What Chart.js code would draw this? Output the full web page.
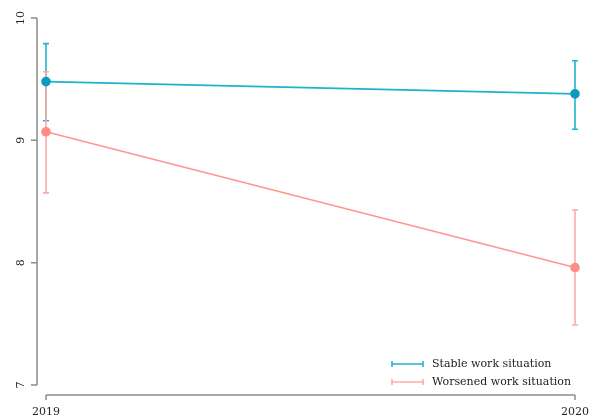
<!DOCTYPE html>
<html>
<head>
<meta charset="utf-8">
<script src="https://cdn.jsdelivr.net/npm/chart.js@4/dist/chart.umd.min.js"></script>
<style>
  html, body { margin: 0; padding: 0; background: #fff; }
  #wrap { width: 595px; height: 418px; }
</style>
</head>
<body>
<div id="wrap"><canvas id="myChart" width="595" height="418"></canvas></div>
<script>
const years = [2019, 2020];
const yTicks = [7, 8, 9, 10];

const seriesNames = ["Stable work situation", "Worsened work situation"];
const stableMean = [9.48, 9.38];
const stableLow = [9.16, 9.09];
const stableHigh = [9.79, 9.65];
const worseMean = [9.07, 7.96];
const worseLow = [8.57, 7.49];
const worseHigh = [9.56, 8.43];

const lineColors = ["#1fb2cf", "#ff958f"];
const pointColors = ["#0a9cc0", "#ff8c86"];
const barColors = ["#1fb4d2", "#ffaaa5"];

const lows = [stableLow, worseLow];
const highs = [stableHigh, worseHigh];

const serif = "'DejaVu Serif', 'Liberation Serif', serif";
const axisColor = "#8c8c8c";

// base-R style error bars, under the points
const errorBars = {
  id: "errorBars",
  beforeDatasetsDraw(chart) {
    const ctx = chart.ctx;
    const x = chart.scales.x;
    const y = chart.scales.y;
    [0, 1].forEach((s) => {
      ctx.save();
      ctx.strokeStyle = barColors[s];
      ctx.lineWidth = 1.6;
      years.forEach((yr, i) => {
        const px = x.getPixelForValue(yr);
        const top = y.getPixelForValue(highs[s][i]);
        const bot = y.getPixelForValue(lows[s][i]);
        ctx.beginPath();
        ctx.moveTo(px, top); ctx.lineTo(px, bot);
        ctx.moveTo(px - 3, top); ctx.lineTo(px + 3, top);
        ctx.moveTo(px - 3, bot); ctx.lineTo(px + 3, bot);
        ctx.stroke();
      });
      ctx.restore();
    });
  }
};

// detached axes and legend
const rAxes = {
  id: "rAxes",
  afterDatasetsDraw(chart) {
    const ctx = chart.ctx;
    const x = chart.scales.x;
    const y = chart.scales.y;
    const area = chart.chartArea;

    ctx.save();
    ctx.strokeStyle = axisColor;
    ctx.lineWidth = 1.5;
    ctx.fillStyle = "#222";
    ctx.font = "11px " + serif;

    const ax = area.left;
    ctx.beginPath();
    ctx.moveTo(ax, y.getPixelForValue(yTicks[0]));
    ctx.lineTo(ax, y.getPixelForValue(yTicks[yTicks.length - 1]));
    yTicks.forEach((t) => {
      const py = y.getPixelForValue(t);
      ctx.moveTo(ax, py); ctx.lineTo(ax - 6, py);
    });
    ctx.stroke();
    yTicks.forEach((t) => {
      const py = y.getPixelForValue(t);
      ctx.save();
      ctx.translate(ax - 16, py);
      ctx.rotate(-Math.PI / 2);
      ctx.textAlign = "center";
      ctx.textBaseline = "middle";
      ctx.fillText(String(t), 0, 0);
      ctx.restore();
    });

    const ay = area.bottom;
    ctx.beginPath();
    ctx.moveTo(x.getPixelForValue(years[0]), ay);
    ctx.lineTo(x.getPixelForValue(years[years.length - 1]), ay);
    years.forEach((yr) => {
      const px = x.getPixelForValue(yr);
      ctx.moveTo(px, ay); ctx.lineTo(px, ay + 5);
    });
    ctx.stroke();
    ctx.textAlign = "center";
    ctx.textBaseline = "middle";
    years.forEach((yr) => {
      ctx.fillText(String(yr), x.getPixelForValue(yr), ay + 17);
    });

    // legend
    ctx.textAlign = "left";
    seriesNames.forEach((name, s) => {
      const ly = 364 + s * 18;
      ctx.strokeStyle = barColors[s];
      ctx.lineWidth = 1.6;
      ctx.beginPath();
      ctx.moveTo(392, ly); ctx.lineTo(423, ly);
      ctx.moveTo(392, ly - 3); ctx.lineTo(392, ly + 3);
      ctx.moveTo(423, ly - 3); ctx.lineTo(423, ly + 3);
      ctx.stroke();
      ctx.fillStyle = "#222";
      ctx.fillText(name, 432, ly);
    });
    ctx.restore();
  }
};

const ctx = document.getElementById("myChart").getContext("2d");
new Chart(ctx, {
  type: "line",
  data: {
    datasets: [
      {
        label: seriesNames[0],
        data: years.map((yr, i) => ({ x: yr, y: stableMean[i] })),
        borderColor: lineColors[0],
        backgroundColor: pointColors[0],
        pointBackgroundColor: pointColors[0],
        pointBorderColor: pointColors[0],
        borderWidth: 1.6,
        pointRadius: 4,
        fill: false,
      },
      {
        label: seriesNames[1],
        data: years.map((yr, i) => ({ x: yr, y: worseMean[i] })),
        borderColor: lineColors[1],
        backgroundColor: pointColors[1],
        pointBackgroundColor: pointColors[1],
        pointBorderColor: pointColors[1],
        borderWidth: 1.6,
        pointRadius: 4,
        fill: false,
      },
    ],
  },
  options: {
    responsive: false,
    animation: false,
    layout: { autoPadding: false, padding: { left: 37, right: 11, top: 0, bottom: 23 } },
    plugins: {
      legend: { display: false },
      tooltip: { enabled: false },
    },
    scales: {
      x: { type: "linear", display: false, min: 2018.983, max: 2020.017 },
      y: { type: "linear", display: false, min: 6.918, max: 10.147 },
    },
  },
  plugins: [errorBars, rAxes],
});
</script>
</body>
</html>
